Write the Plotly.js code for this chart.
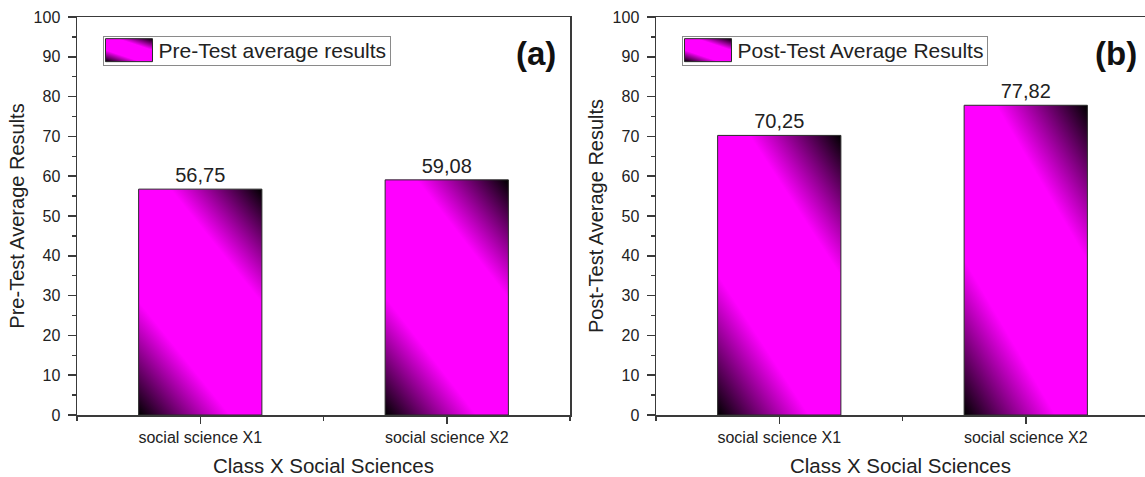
<!DOCTYPE html>
<html>
<head>
<meta charset="utf-8">
<script src="https://cdn.plot.ly/plotly-3.0.1.min.js"></script>
<style>
  html, body { margin: 0; padding: 0; background: #fff; overflow: hidden; }
  #chart { width: 1145px; height: 477px; }
</style>
</head>
<body>
<div id="chart"></div>
<script>
// ---- data ----
const categories = ['social science X1', 'social science X2'];
const preTest = [56.75, 59.08];
const postTest = [70.25, 77.82];
const preName = 'Pre-Test average results';
const postName = 'Post-Test Average Results';
const xTitle = 'Class X Social Sciences';
const preYTitle = 'Pre-Test Average Results';
const postYTitle = 'Post-Test Average Results';
const panelLabels = ['(a)', '(b)'];

const xIdx = categories.map((_, i) => i);
const FONT = 'Liberation Sans, Arial, sans-serif';
const AX = '#3a3a3a';
const TXT = '#222';

function barTrace(vals, name, xa, ya, leg) {
  return {
    type: 'bar', x: xIdx, y: vals, name: name, xaxis: xa, yaxis: ya, legend: leg,
    width: 0.5, showlegend: true,
    marker: { color: '#ff00ff', line: { color: '#2a2a2a', width: 1 } },
    texttemplate: '%{y:.2f}', textposition: 'outside', cliponaxis: false,
    textfont: { family: FONT, size: 20, color: TXT }
  };
}

function xAxis(domain, range, anchor) {
  return {
    domain: domain, range: range, anchor: anchor, type: 'linear',
    tickmode: 'array', tickvals: xIdx, ticktext: categories,
    ticks: 'outside', ticklen: 7, tickwidth: 1.5, tickcolor: AX,
    minor: { dtick: 0.5, tick0: -0.5, ticks: 'outside', ticklen: 4, tickwidth: 1.5, tickcolor: AX },
    showline: true, linecolor: AX, linewidth: 1.5, mirror: true,
    showgrid: false, zeroline: false,
    tickfont: { family: FONT, size: 16, color: TXT },
    title: { text: xTitle, font: { family: FONT, size: 20.5, color: TXT }, standoff: 14 },
    fixedrange: true
  };
}
function yAxis(domain, anchor, title, mirror) {
  return {
    domain: domain, range: [0, 100], anchor: anchor,
    tickmode: 'linear', tick0: 0, dtick: 10,
    ticks: 'outside', ticklen: 8, tickwidth: 1.5, tickcolor: AX,
    minor: { dtick: 5, ticks: 'outside', ticklen: 4, tickwidth: 1.5, tickcolor: AX },
    showline: true, linecolor: AX, linewidth: 1.5, mirror: mirror,
    showgrid: false, zeroline: false,
    ticklabelstandoff: 4,
    tickfont: { family: FONT, size: 16, color: TXT },
    title: { text: title, font: { family: FONT, size: 20, color: TXT }, standoff: 3 },
    fixedrange: true
  };
}

const W = 1145, H = 477;
const ydom = [(H - 415) / H, (H - 17) / H];
const data = [
  barTrace(preTest, preName, 'x', 'y', 'legend'),
  barTrace(postTest, postName, 'x2', 'y2', 'legend2')
];

function legendCfg(xpx) {
  return {
    x: xpx / W, y: 1 - 29 / H, xanchor: 'left', yanchor: 'top',
    bgcolor: '#fff', bordercolor: '#8a8a8a', borderwidth: 1,
    font: { family: FONT, size: 21, color: TXT },
    itemwidth: 45, itemclick: false, itemdoubleclick: false
  };
}

const layout = {
  width: W, height: H,
  margin: { l: 0, r: 0, t: 0, b: 0 },
  paper_bgcolor: '#fff', plot_bgcolor: '#fff',
  separators: ',.',
  font: { family: FONT, color: TXT },
  showlegend: true,
  xaxis: xAxis([77 / W, 570 / W], [-0.5, 1.5], 'y'),
  yaxis: yAxis(ydom, 'x', preYTitle, true),
  xaxis2: xAxis([656 / W, 1], [-0.5, -0.5 + (W - 656) / 246.5], 'y2'),
  yaxis2: yAxis(ydom, 'x2', postYTitle, false),
  legend: legendCfg(103),
  legend2: legendCfg(682),
  annotations: [
    { text: '<b>' + panelLabels[0] + '</b>', xref: 'paper', yref: 'paper', x: 536 / W, y: 1 - 53 / H,
      xanchor: 'center', yanchor: 'middle', showarrow: false, font: { family: FONT, size: 33, color: '#111' } },
    { text: '<b>' + panelLabels[1] + '</b>', xref: 'paper', yref: 'paper', x: 1116 / W, y: 1 - 53 / H,
      xanchor: 'center', yanchor: 'middle', showarrow: false, font: { family: FONT, size: 33, color: '#111' } }
  ]
};

function styleLegend(g) {
  const bg = g.querySelector(':scope > rect.bg') || g.querySelector('rect.bg');
  const path = g.querySelector('.legendpoints path');
  const text = g.querySelector('text.legendtext') || g.querySelector('.traces text');
  if (!bg || !path) return;
  if (path.getAttribute('data-done') === '1') return;
  const bb = bg.getBoundingClientRect();
  const pb = path.getBoundingClientRect();
  if (bb.width === 0 || pb.width === 0) return;
  const cx = (pb.left + pb.right) / 2;
  const L = bb.left + 2 - cx, R = bb.left + 49 - cx;
  path.setAttribute('d', 'M' + L + ',-11.5H' + R + 'V11.5H' + L + 'Z');
  path.style.fill = 'url(#magGrad)';
  path.setAttribute('data-done', '1');
  if (!text) return;
  const tb = text.getBoundingClientRect();
  const shift = (bb.left + 55) - tb.left;
  text.setAttribute('x', (parseFloat(text.getAttribute('x')) || 0) + shift);
  const newRight = tb.right + shift + 4;
  bg.setAttribute('width', newRight - bb.left);
  const tcy = (tb.top + tb.bottom) / 2;
  const oy = parseFloat(bg.getAttribute('y')) || 0;
  bg.setAttribute('y', oy + (tcy - 14.5 - bb.top));
  bg.setAttribute('height', 29);
}

function ensureGradient(gd) {
  if (document.getElementById('magGrad')) return;
  const ns = 'http://www.w3.org/2000/svg';
  const svg = gd.querySelector('svg.main-svg');
  let defs = svg.querySelector('defs');
  if (!defs) { defs = document.createElementNS(ns, 'defs'); svg.insertBefore(defs, svg.firstChild); }
  const lg = document.createElementNS(ns, 'linearGradient');
  lg.setAttribute('id', 'magGrad');
  lg.setAttribute('x1', '0.11'); lg.setAttribute('y1', '1.075');
  lg.setAttribute('x2', '0.89'); lg.setAttribute('y2', '-0.075');
  [[0, '#000000'], [0.3, '#ff00ff'], [0.7, '#ff00ff'], [1, '#000000']].forEach(([o, c]) => {
    const s = document.createElementNS(ns, 'stop');
    s.setAttribute('offset', o); s.setAttribute('stop-color', c);
    lg.appendChild(s);
  });
  defs.appendChild(lg);
}

function applyStyles() {
  const gd = document.getElementById('chart');
  try {
    ensureGradient(gd);
    gd.querySelectorAll('.barlayer .point path').forEach(p => { p.style.fill = 'url(#magGrad)'; });
    gd.querySelectorAll('.infolayer > g').forEach(g => {
      const cls = g.getAttribute('class') || '';
      if (/^legend\d*$/.test(cls)) styleLegend(g);
    });
  } catch (e) { console.error(e); }
}

Plotly.newPlot('chart', data, layout, { staticPlot: true, displayModeBar: false })
  .then(() => {
    applyStyles();
    document.getElementById('chart').on('plotly_afterplot', applyStyles);
    requestAnimationFrame(applyStyles);
    setTimeout(applyStyles, 50);
    setTimeout(applyStyles, 250);
    setTimeout(applyStyles, 800);
  });
</script>
</body>
</html>
